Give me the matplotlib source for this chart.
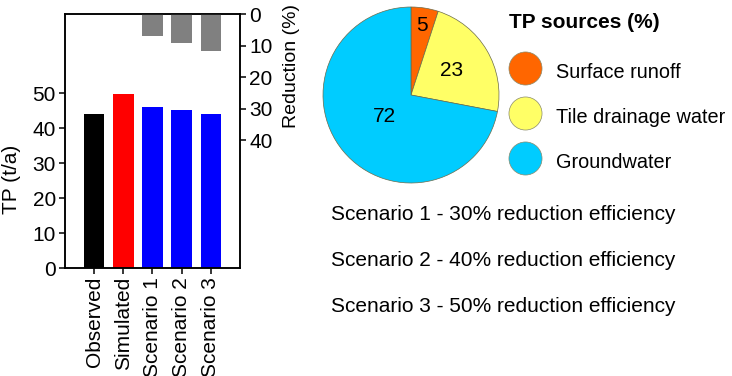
import matplotlib
matplotlib.use("Agg")
import matplotlib.pyplot as plt
from matplotlib.lines import Line2D
import numpy as np

plt.rcParams['font.family'] = ['Liberation Sans', 'DejaVu Sans']

# ---- data ----
categories = ["Observed", "Simulated", "Scenario 1", "Scenario 2", "Scenario 3"]
tp_values = [44.1, 49.6, 46.1, 45.1, 43.9]
bar_colors = ["#000000", "#FF0000", "#0000FF", "#0000FF", "#0000FF"]
reduction_categories = ["Scenario 1", "Scenario 2", "Scenario 3"]
reduction_values = [6.9, 9.3, 11.7]
left_ticks = [0, 10, 20, 30, 40, 50]
right_ticks = [0, 10, 20, 30, 40]

source_labels = ["Surface runoff", "Tile drainage water", "Groundwater"]
source_values = [5, 23, 72]
source_colors = ["#FF6600", "#FFFF66", "#00CCFF"]
label_distances = [0.80, 0.54, 0.39]

scenario_notes = ["Scenario 1 - 30% reduction efficiency",
                  "Scenario 2 - 40% reduction efficiency",
                  "Scenario 3 - 50% reduction efficiency"]

W, H = 732, 376
fig = plt.figure(figsize=(W / 100, H / 100), dpi=100)

FS = 15
LFS = 14.3
LW = 1.1

# ---- bar chart ----
ax = fig.add_axes([65 / W, (H - 268) / H, 175 / W, 254 / H])
x = np.arange(len(categories))
ax.bar(x, tp_values, width=0.7, color=bar_colors)
ax.set_xlim(-1, len(categories))
ax.set_ylim(0, 72.6)
ax.set_yticks(left_ticks)
ax.set_xticks(x)
ax.set_xticklabels(categories, rotation=90, fontsize=FS)
ax.tick_params(axis='both', direction='out', length=4.5, width=LW, labelsize=FS, pad=2)
for s in ax.spines.values():
    s.set_linewidth(LW)
ax.set_ylabel("TP (t/a)", fontsize=FS)
ax.yaxis.set_label_coords(-0.251, 0.35)

ax2 = ax.twinx()
xr = [categories.index(c) for c in reduction_categories]
ax2.bar(xr, reduction_values, width=0.7, color="#808080")
ax2.set_ylim(80.6, 0)
ax2.set_yticks(right_ticks)
ax2.tick_params(axis='y', direction='out', length=4.5, width=LW, labelsize=FS, pad=2)
for s in ax2.spines.values():
    s.set_linewidth(LW)
ax2.set_ylabel("Reduction (%)", fontsize=14)
ax2.yaxis.set_label_coords(1.246, 0.795)

# ---- pie chart ----
pax = fig.add_axes([323 / W, (H - 183) / H, 176 / W, 176 / H])
wedges, texts, autotexts = pax.pie(
    source_values, colors=source_colors, startangle=90, counterclock=False,
    autopct=lambda p: f"{p:.0f}", textprops={'fontsize': FS},
    wedgeprops={'edgecolor': '#6b6b4a', 'linewidth': 0.5})
for w, t, d in zip(wedges, autotexts, label_distances):
    ang = np.deg2rad((w.theta1 + w.theta2) / 2)
    t.set_position((d * np.cos(ang), d * np.sin(ang)))
pax.set_xlim(-1, 1)
pax.set_ylim(-1, 1)
pax.set_aspect('equal')

handles = [Line2D([], [], linestyle='none', marker='o', markersize=23.8,
                  markerfacecolor=c, markeredgecolor='#8a8a6a', markeredgewidth=0.5)
           for c in source_colors]
leg = fig.legend(handles, source_labels, loc='upper left',
                 bbox_to_anchor=(509 / W, (H - 58) / H), frameon=False,
                 fontsize=LFS, handlelength=1.66, handleheight=1.7,
                 handletextpad=0.73, labelspacing=0.916, borderpad=0,
                 borderaxespad=0)
fig.text(509 / W, (H - 23) / H, "TP sources (%)", fontsize=FS, fontweight='bold',
         ha='left', va='center')

for i, note in enumerate(scenario_notes):
    fig.text(331 / W, (H - (220.5 + 46 * i)) / H, note, fontsize=FS,
             ha='left', va='baseline')

fig.savefig("out.png", dpi=100)
